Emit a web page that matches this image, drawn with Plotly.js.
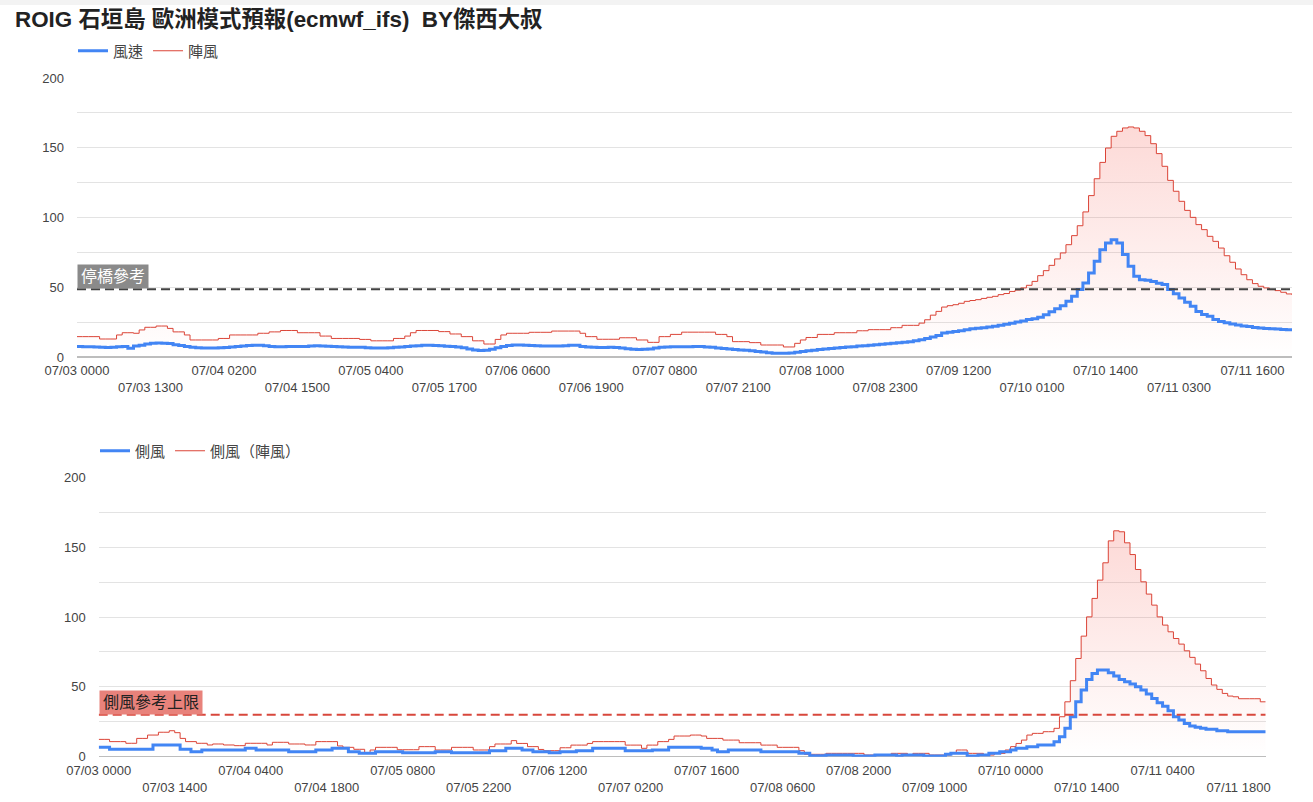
<!DOCTYPE html>
<html>
<head>
<meta charset="utf-8">
<script src="https://cdn.plot.ly/plotly-3.0.1.min.js"></script>
<style>
html,body{margin:0;padding:0;background:#fff;}
#chart{width:1313px;height:802px;}
</style>
</head>
<body>
<div id="chart"></div>
<script>
// ---------- DATA ----------
const chartTitle = 'ROIG 石垣島 歐洲模式預報(ecmwf_ifs)  BY傑西大叔';
const topSeriesNames = ['風速', '陣風'];
const bottomSeriesNames = ['側風', '側風（陣風）'];
const topRefLabel = '停橋參考';
const bottomRefLabel = '側風參考上限';
const topRefValue = 48.5;
const bottomRefValue = 30;

// hourly categories 07/03 0000 .. 07/11 2300
const hourLabels = [];
for (let d = 3; d <= 11; d++) {
  for (let h = 0; h < 24; h++) {
    hourLabels.push('07/' + String(d).padStart(2, '0') + ' ' + String(h).padStart(2, '0') + '00');
  }
}

const topTickLabels = ['07/03 0000','07/03 1300','07/04 0200','07/04 1500','07/05 0400','07/05 1700',
  '07/06 0600','07/06 1900','07/07 0800','07/07 2100','07/08 1000','07/08 2300','07/09 1200',
  '07/10 0100','07/10 1400','07/11 0300','07/11 1600'];
const bottomTickLabels = ['07/03 0000','07/03 1400','07/04 0400','07/04 1800','07/05 0800','07/05 2200',
  '07/06 1200','07/07 0200','07/07 1600','07/08 0600','07/08 2000','07/09 1000','07/10 0000',
  '07/10 1400','07/11 0400','07/11 1800'];
const yTickValues = [0, 25, 50, 75, 100, 125, 150, 175, 200];
const yTickLabels = ['0', '', '50', '', '100', '', '150', '', '200'];

// 風速 (wind speed)
const windSpeed = [
  7.6,7.4,7.4,7.2,7,6.8,7,7.3,7.5,6.2,7.8,8.5,9.3,9.8,10,9.9,9.6,8.8,8.2,7.6,
  7,6.6,6.4,6.4,6.5,6.6,6.8,7.2,7.6,7.8,8.3,8.5,8.4,8,7.6,7.4,7.3,7.5,7.6,7.5,
  7.6,7.8,8,7.9,7.7,7.5,7.3,7.1,7,7,6.9,6.7,6.5,6.4,6.5,6.7,6.9,7.2,7.5,7.8,
  8.1,8.4,8.5,8.3,8,7.7,7.5,7.2,6.6,5.8,5,4.6,4.8,5.6,6.6,7.6,8.3,8.6,8.6,8.5,
  8.3,8.1,7.9,7.8,7.8,7.9,8.1,8.5,8.4,7.6,7.1,6.9,6.8,6.8,6.9,6.8,6.5,6,5.6,5.4,
  5.5,5.8,6.4,6.9,7.2,7.4,7.4,7.3,7.4,7.6,7.5,7.2,6.9,6.5,6.1,5.8,5.4,5.1,4.8,4.4,
  3.9,3.5,3,2.7,2.6,2.6,2.9,3.4,3.9,4.4,4.9,5.3,5.7,6.1,6.5,6.8,7.1,7.4,7.8,8.1,
  8.5,8.8,9.1,9.5,9.9,10.3,10.6,11,11.7,12.4,13.2,
  14.3,15.5,17.2,17.8,18.3,18.8,19.6,20.2,20.6,21,21.5,22,22.8,23.5,24.2,25,25.8,26.8,27.5,28.5,
  30.3,32.5,34.5,36.8,39.9,43.5,48.3,53,60.2,68.6,76.9,81.7,84.1,81.7,73.4,65,57.8,55.4,55,54.2,
  52.8,51.9,48.3,45.4,42.3,39.2,36.3,32.7,30.5,29.2,26.8,25.5,24.5,23.7,23,22.3,21.8,21.2,20.8,20.5,
  20.2,20,19.8,19.6,19.4
];
// 陣風 (gust)
const windGust = [
  14.6,14.6,14.6,14.6,12.9,12.9,12.9,15.8,17.4,17.4,17,19.4,21.3,21.3,22.2,22.2,20.5,18,18,15.8,
  12.2,12.2,12.2,12.2,12.2,13.3,13.3,15.8,15.8,15.8,15.8,15.8,17,17,18,18,19,19,19,17.4,
  17.4,17.4,17.4,15,15,13.3,13.3,13.3,13.3,13.3,12.6,12.6,11.6,11.6,11.6,11.6,13.3,13.3,15,17.4,
  19,19,19,19,18.2,18.2,16.5,16.5,14.6,14.6,11.6,11.6,9.3,9.3,12.6,15.8,17,17,17,17,
  17.7,17.7,17.7,17.7,18.6,18.6,18.6,18.6,18.6,17,14.6,14.6,12.7,12.7,12.7,12.7,13.8,13.8,13.8,12.2,
  12.2,10.5,10.5,14.6,14.6,16.2,16.2,17.8,17.8,17.8,17.8,17.8,17.8,16.2,16.2,14.6,11,11,11,10.3,
  10.3,8.6,8.6,8.6,8.6,7.2,7.2,9.8,12.2,14,14,16.2,16.2,16.2,17.4,17.4,17.4,17.4,18.8,18.8,
  19.6,19.6,19.6,19.6,21,21,22.7,22.7,22.7,24.3,26.7,
  30,32.7,35.8,36.8,37.5,38.5,39.9,40.5,41.1,42,42.8,43.5,44.7,45.5,47,48,49.5,51.4,54.2,58.3,
  61.9,65.7,70.3,74.6,80.5,87,94.1,104,115.7,127.8,139.5,149.8,158.2,161.8,164.2,164.9,164.2,161.8,158.7,152.9,
  145.8,136.7,126.6,118.8,111.6,105.1,100.1,94.9,91.3,86.5,82.9,78.1,72.6,67.9,63.1,59,55.4,52.6,50.7,49.5,
  48.3,47.6,46.4,45.2,44.5
];
// 側風 (crosswind)
const crossWind = [
  6.7,6.7,5.3,5.3,5.3,5.3,5.3,5.3,5.3,5.3,8.4,8.4,8.4,8.4,8.4,5.3,5.3,3.6,3.6,4.8,
  4.8,4.8,4.8,4.8,4.8,4.8,4.8,6,6,4.8,4.8,4.8,4.8,4.8,4.8,3.6,3.6,3.6,3.6,3.6,
  4.8,4.8,4.8,6,6,6,3.6,3.6,2.4,2.4,2.4,3.6,3.6,3.6,3.6,3.6,2.9,2.9,2.9,2.9,
  2.9,2.9,3.6,3.6,3.6,2.9,2.9,2.9,2.9,2.9,2.9,2.9,4.3,4.3,4.3,6,6,6,4.8,4.8,
  3.6,3.6,3.6,2.9,2.9,3.6,3.6,3.6,4.3,4.3,4.3,6,6,6,6,6,6,4.3,4.3,4.3,
  4.3,4.3,4.8,4.8,4.8,6.7,6.7,6.7,6.7,6.7,6.7,6,6,4.8,3.6,3.6,4.8,4.8,4.8,4.8,
  4.8,4.8,3.6,3.6,3.6,3.6,3.6,3.6,3.6,2.4,2.4,0.7,0.7,0.7,1.2,1.2,1.2,1.2,1.2,0.5,
  0.5,0.5,0.5,1.2,1.2,1.2,1.2,0.5,1.2,1.2,1.2,1.2,0.5,0.5,0.5,0.5,1.7,2.4,2.4,2.4,
  0.5,0.5,1.2,1.2,2.4,2.4,3.6,3.6,4.8,6,6,7.2,7.2,8.3,8.3,8.3,10.7,
  14.3,20.3,28.6,39.3,47.7,55.3,59.6,62,62,60.1,57.7,55.3,53.6,52,50.1,47.7,44.8,41.7,38.6,36.2,
  32.9,28.6,26.2,23.8,21.9,21,20.3,19.6,19.6,18.6,18.6,17.9,17.9,17.9,17.9,17.9,17.9,17.9,17.9
];
// 側風（陣風） (crosswind gust)
const crossGust = [
  12.4,12.4,10.8,10.8,10.8,9.6,9.6,13.1,13.1,15.5,15.5,17.5,17.5,18.6,17.2,13.1,10.8,10.8,9.6,9.6,
  8.4,9.1,9.1,8.4,8.4,7.9,7.9,9.6,9.6,9.6,9.6,8.4,10.3,10.3,10.3,9.1,9.1,9.1,8.4,8.4,
  10.8,10.8,10.8,10.8,7.7,6.7,6.7,5.3,5.3,2.9,4.8,6.7,6.7,6.7,6.7,5,5,5,5,7.2,
  7.2,7.2,4.8,4.8,4.8,6.7,6.7,6.7,6.7,4.8,4.8,4.8,7.2,9.1,9.1,9.1,11.5,9.5,9.5,7.2,
  7.2,5.2,4.3,4.3,4.3,6.4,6.4,8.3,8.3,8.3,9.5,10.8,10.8,10.8,10.8,10.8,10.8,8.3,8.3,8.3,
  6,8.3,8.3,10.8,10.8,12.4,14.8,14.8,14.8,15.5,15.5,14.8,13.1,13.1,13.1,11.9,11.9,11.9,10,10,
  10,10,8.3,8.3,8.3,6.7,6.7,6.7,6.7,4.3,1.7,1.7,1.7,1.7,2.4,2.4,2.4,2.4,2.4,2.4,
  2.4,1.2,1.2,1.2,1.2,1.2,2.4,2.4,2.4,1.2,2.4,2.4,2.4,1.2,1.2,1.2,1.2,2.9,4.8,4.8,
  2.4,2.4,2.4,1.2,1.2,2.4,2.4,4.8,7.2,9.5,11.9,15.5,16.7,16.7,17.9,17.9,20.3,28.6,
  39.3,54.4,70.3,86.3,100.1,113.3,126.4,138.8,154.5,161.7,161,153.1,144.7,134,125.2,116.4,108.5,100.1,94.2,89.4,
  84.6,80.6,75.8,71.1,66.3,61.5,56,51.3,48.2,45.3,43.4,42.9,41.5,41.5,41.5,41.5,39.3,39.3
];

// ---------- STYLE ----------
const FONT = "'Liberation Sans', Arial, 'Noto Sans CJK TC', sans-serif";
const BLUE = '#4285f4';
const RED = '#db4437';
const W = 1313, H = 802;
const idx = hourLabels.map((_, i) => i);
const lastIdx = hourLabels.length - 1;

// staggered two-row tick labels: every second label goes on the second line
function ticks(labels) {
  return {
    vals: labels.map(l => hourLabels.indexOf(l)),
    txt: labels.map((l, k) => (k % 2 === 1 ? '<br>' + l : l))
  };
}
const tTop = ticks(topTickLabels);
const tBot = ticks(bottomTickLabels);

function grad(vals) {
  return {
    type: 'vertical', start: 0, stop: Math.max(...vals),
    colorscale: [[0, 'rgba(244,67,54,0)'], [1, 'rgba(244,67,54,0.2)']]
  };
}

const traces = [
  { x: idx, y: windGust, xaxis: 'x', yaxis: 'y', type: 'scatter', mode: 'lines', line: { shape: 'hv', width: 0, color: RED },
    fill: 'tozeroy', fillgradient: grad(windGust), showlegend: false, hoverinfo: 'skip' },
  { x: idx, y: windGust, xaxis: 'x', yaxis: 'y', type: 'scatter', mode: 'lines', name: topSeriesNames[1],
    line: { shape: 'hv', width: 1, color: RED }, legend: 'legend', legendrank: 2 },
  { x: idx, y: windSpeed, xaxis: 'x', yaxis: 'y', type: 'scatter', mode: 'lines', name: topSeriesNames[0],
    line: { shape: 'hv', width: 3, color: BLUE }, legend: 'legend', legendrank: 1 },

  { x: idx, y: crossGust, xaxis: 'x2', yaxis: 'y2', type: 'scatter', mode: 'lines', line: { shape: 'hv', width: 0, color: RED },
    fill: 'tozeroy', fillgradient: grad(crossGust), showlegend: false, hoverinfo: 'skip' },
  { x: idx, y: crossGust, xaxis: 'x2', yaxis: 'y2', type: 'scatter', mode: 'lines', name: bottomSeriesNames[1],
    line: { shape: 'hv', width: 1, color: RED }, legend: 'legend2', legendrank: 2 },
  { x: idx, y: crossWind, xaxis: 'x2', yaxis: 'y2', type: 'scatter', mode: 'lines', name: bottomSeriesNames[0],
    line: { shape: 'hv', width: 3, color: BLUE }, legend: 'legend2', legendrank: 1 }
];

const topDom = { x: [77 / W, 1292 / W], y: [1 - 357 / H, 1 - 78 / H] };
const botDom = { x: [98.7 / W, 1265.7 / W], y: [1 - 756.7 / H, 1 - 477.3 / H] };

function yAxis(dom, anchor) {
  return {
    domain: dom, anchor: anchor, range: [0, 200], tickvals: yTickValues, ticktext: yTickLabels,
    showgrid: true, gridcolor: '#e3e3e3', gridwidth: 1, zeroline: true, zerolinecolor: '#bdbdbd', zerolinewidth: 1.5,
    showline: false, ticks: '', ticklabelstandoff: 12, tickfont: { size: 13, color: '#444', family: FONT }, fixedrange: true
  };
}
function xAxis(dom, anchor, t) {
  return {
    domain: dom, anchor: anchor, range: [0, lastIdx], tickvals: t.vals, ticktext: t.txt,
    showgrid: false, zeroline: false, showline: false, ticks: '', tickangle: 0,
    ticklabelstandoff: 4, tickfont: { size: 13, color: '#444', family: FONT }, fixedrange: true
  };
}

const layout = {
  width: W, height: H, margin: { l: 0, r: 0, t: 0, b: 0 },
  paper_bgcolor: '#fff', plot_bgcolor: 'rgba(0,0,0,0)',
  font: { family: FONT, color: '#444' },
  title: { text: chartTitle, x: 15 / W, xanchor: 'left', xref: 'container', y: 1 - 19 / H, yanchor: 'middle', yref: 'container',
    font: { size: 22.4, color: '#222', family: FONT, weight: 'bold' } },
  xaxis: xAxis(topDom.x, 'y', tTop),
  yaxis: yAxis(topDom.y, 'x'),
  xaxis2: xAxis(botDom.x, 'y2', tBot),
  yaxis2: yAxis(botDom.y, 'x2'),
  legend: { orientation: 'h', x: 73 / W, xanchor: 'left', y: 1 - 51 / H, yanchor: 'middle',
    font: { size: 15, color: '#444', family: FONT }, bgcolor: 'rgba(0,0,0,0)', traceorder: 'normal', itemwidth: 30 },
  legend2: { orientation: 'h', x: 95 / W, xanchor: 'left', y: 1 - 451 / H, yanchor: 'middle',
    font: { size: 15, color: '#444', family: FONT }, bgcolor: 'rgba(0,0,0,0)', traceorder: 'normal', itemwidth: 30 },
  shapes: [
    { type: 'rect', xref: 'paper', yref: 'paper', x0: 0, x1: 1, y0: 1 - 5 / H, y1: 1, fillcolor: '#f3f3f3', line: { width: 0 }, layer: 'below' },
    { type: 'line', xref: 'x', yref: 'y', x0: 0, x1: lastIdx, y0: topRefValue, y1: topRefValue,
      line: { color: '#424242', width: 2, dash: '9px,5px' } },
    { type: 'line', xref: 'x2', yref: 'y2', x0: 0, x1: lastIdx, y0: bottomRefValue, y1: bottomRefValue,
      line: { color: '#d8473c', width: 2, dash: '9px,5px' } }
  ],
  annotations: [
    { text: topRefLabel, xref: 'x', yref: 'y', x: 0, y: topRefValue, xanchor: 'left', yanchor: 'bottom', showarrow: false,
      bgcolor: '#8a8a8a', borderpad: 3, font: { size: 16, color: '#fff', family: FONT } },
    { text: bottomRefLabel, xref: 'x2', yref: 'y2', x: 0, y: bottomRefValue, xanchor: 'left', yanchor: 'bottom', showarrow: false,
      bgcolor: '#e8827b', borderpad: 3, font: { size: 16, color: '#222', family: FONT } }
  ],
  showlegend: true
};

Plotly.newPlot('chart', traces, layout, { displayModeBar: false, staticPlot: true });
</script>
</body>
</html>
